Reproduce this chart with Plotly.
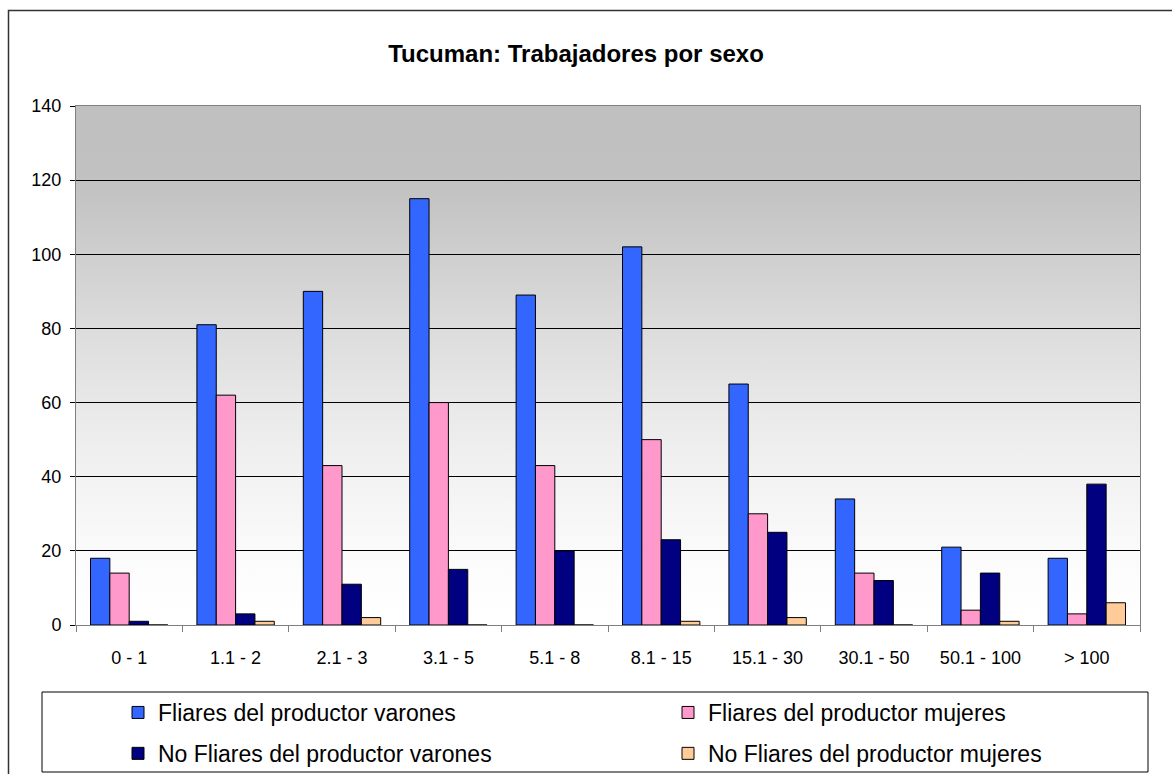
import base64
import plotly.graph_objects as go

# categories (hectare ranges) and series
categories = ["0 - 1", "1.1 - 2", "2.1 - 3", "3.1 - 5", "5.1 - 8",
              "8.1 - 15", "15.1 - 30", "30.1 - 50", "50.1 - 100", "> 100"]
fliares_varones = [18, 81, 90, 115, 89, 102, 65, 34, 21, 18]
fliares_mujeres = [14, 62, 43, 60, 43, 50, 30, 14, 4, 3]
no_fliares_varones = [1, 3, 11, 15, 20, 23, 25, 12, 14, 38]
no_fliares_mujeres = [0, 1, 2, 0, 0, 1, 2, 0, 1, 6]

# name, values, colour, legend column
series = [
    ("Fliares del productor varones", fliares_varones, "#3366FF", "legend"),
    ("Fliares del productor mujeres", fliares_mujeres, "#FF99CC", "legend2"),
    ("No Fliares del productor varones", no_fliares_varones, "#000080", "legend"),
    ("No Fliares del productor mujeres", no_fliares_mujeres, "#FFCC99", "legend2"),
]

W, H = 1172, 774
L, R, T, B = 76, 32, 106, 149
pw, ph = W - L - R, H - T - B


def px_x(p):
    return (p - L) / pw


def px_y(p):
    return (H - B - p) / ph


fig = go.Figure()
for i, (name, vals, col, leg) in enumerate(series):
    fig.add_trace(go.Bar(x=categories, y=vals, name=name, legend=leg, legendgroup=str(i),
                         marker=dict(color=col, line=dict(color="black", width=1))))

# gradient background (grey top -> white bottom) as an svg image
stops = ""
for k in range(13):
    off = k / 12
    t = min(1.0, (1 - off) / (120 / 140))
    g = round(255 - (255 - 192) * t ** 1.45)
    stops += f"<stop offset='{off:.3f}' stop-color='rgb({g},{g},{g})'/>"
svg = ("<svg xmlns='http://www.w3.org/2000/svg' width='100' height='140' preserveAspectRatio='none'>"
       "<defs><linearGradient id='g' x1='0' y1='0' x2='0' y2='1'>" + stops +
       "</linearGradient></defs><rect width='100' height='140' fill='url(#g)'/></svg>")
bg_src = "data:image/svg+xml;base64," + base64.b64encode(svg.encode()).decode()

shapes = [
    # legend box
    dict(type="rect", xref="paper", yref="paper",
         x0=px_x(42), x1=px_x(1148), y0=px_y(772), y1=px_y(692),
         line=dict(color="black", width=1), fillcolor="rgba(0,0,0,0)"),
    # outer chart border
    dict(type="rect", xref="paper", yref="paper",
         x0=px_x(8.5), x1=px_x(1190), y0=px_y(800), y1=px_y(10.5),
         line=dict(color="#333333", width=1.5), fillcolor="rgba(0,0,0,0)"),
]

leg_font = dict(size=23, family="Liberation Sans, Arial", color="black")
fig.update_layout(
    width=W, height=H,
    margin=dict(l=L, r=R, t=T, b=B, autoexpand=False),
    paper_bgcolor="white",
    plot_bgcolor="rgba(0,0,0,0)",
    font=dict(family="Liberation Sans, Arial", color="black", size=18),
    title=dict(text="<b>Tucuman: Trabajadores por sexo</b>", x=576 / W, xanchor="center",
               y=(H - 54) / H, yanchor="middle", xref="container", yref="container",
               font=dict(size=24, family="Liberation Sans, Arial", color="black")),
    barmode="group", bargap=0.2727, bargroupgap=0,
    shapes=shapes,
    images=[dict(source=bg_src, xref="paper", yref="paper", x=0, y=1, sizex=1, sizey=1,
                 xanchor="left", yanchor="top", sizing="stretch", layer="below")],
    showlegend=True,
    legend=dict(x=px_x(118), xanchor="left", y=px_y(691), yanchor="top",
                tracegroupgap=8, font=leg_font, bgcolor="rgba(0,0,0,0)", borderwidth=0),
    legend2=dict(x=px_x(668), xanchor="left", y=px_y(691), yanchor="top",
                 tracegroupgap=8, font=leg_font, bgcolor="rgba(0,0,0,0)", borderwidth=0),
)
fig.update_yaxes(range=[0, 140], dtick=20, showgrid=True, gridcolor="black", gridwidth=1,
                 showline=True, linecolor="#808080", linewidth=1, mirror=True,
                 ticks="outside", ticklen=5, tickcolor="black", zeroline=False,
                 ticklabelstandoff=5, tickfont=dict(size=18))
fig.update_xaxes(showline=True, linecolor="#808080", linewidth=1, mirror=True,
                 ticks="outside", ticklen=6, tickcolor="#808080", tickson="boundaries",
                 ticklabelstandoff=16, tickfont=dict(size=18), showgrid=False)

fig.write_html("out.html", config={"displayModeBar": False},
               post_script="document.body.style.margin='0';")
